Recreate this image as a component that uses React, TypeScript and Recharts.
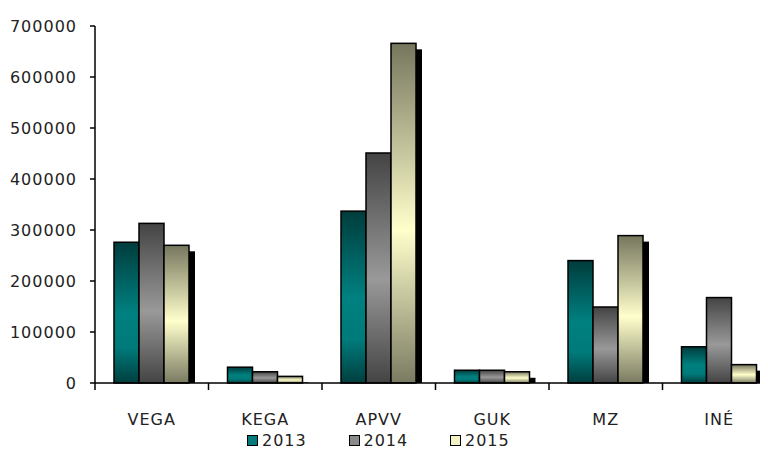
import { BarChart, Bar, XAxis, YAxis, Legend } from "recharts";

const categories = ["VEGA", "KEGA", "APVV", "GUK", "MZ", "INÉ"];
const values2013 = [276000, 31000, 337000, 25000, 240000, 71000];
const values2014 = [313000, 22000, 451000, 25000, 149000, 167500];
const values2015 = [270000, 13000, 666000, 22000, 289000, 36000];
const yTicks = [0, 100000, 200000, 300000, 400000, 500000, 600000, 700000];

const seriesList = [
  { key: "y2013", name: "2013", grad: "gTeal", swatch: "#007a7a", shadow: false },
  { key: "y2014", name: "2014", grad: "gGray", swatch: "#8a8a8a", shadow: false },
  { key: "y2015", name: "2015", grad: "gCream", swatch: "#f2f2c4", shadow: true },
];

const data = categories.map((c, i) => ({
  cat: c,
  y2013: values2013[i],
  y2014: values2014[i],
  y2015: values2015[i],
}));

const FONT = "'DejaVu Sans', sans-serif";

const shadowBar = (grad: string, shadow: boolean) => (props: any) => {
  const { x, y, width, height } = props;
  if (!height || height <= 0) return null;
  return (
    <g>
      {shadow && (
        <rect x={x + 6} y={y + 6} width={width} height={Math.max(0, height - 6)} fill="#000" />
      )}
      <rect
        x={x}
        y={y}
        width={width}
        height={height}
        fill={`url(#${grad})`}
        stroke="#000"
        strokeWidth={1.5}
      />
    </g>
  );
};

const XTick = (props: any) => {
  const { x, y, payload } = props;
  const off = payload.offset || 0;
  return (
    <g>
      <line x1={x - off} y1={y - 8} x2={x - off} y2={y - 1} stroke="#000" strokeWidth={1.5} />
      <text
        x={x}
        y={y + 34}
        textAnchor="middle"
        fontFamily={FONT}
        fontSize={16}
        letterSpacing={1}
        fill="#222"
      >
        {payload.value}
      </text>
    </g>
  );
};

const LegendBox = () => (
  <div style={{ display: "flex", fontFamily: FONT, fontSize: 16, letterSpacing: 1, color: "#222" }}>
    {seriesList.map((s) => (
      <div key={s.key} style={{ display: "flex", alignItems: "center", width: 101.5 }}>
        <span
          style={{
            display: "inline-block",
            width: 9,
            height: 9,
            background: s.swatch,
            border: "1.5px solid #000",
            marginRight: 4,
          }}
        />
        <span>{s.name}</span>
      </div>
    ))}
  </div>
);

export default function App() {
  return (
    <div style={{ width: 768, height: 454, overflow: "hidden", margin: -8, background: "#fff" }}>
      <BarChart
        width={800}
        height={454}
        data={data}
        margin={{ top: 26, right: 24, left: 0, bottom: 10 }}
        barSize={25}
        barGap={0}
      >
        <defs>
          <linearGradient id="gTeal" x1="0" y1="0" x2="0" y2="1">
            <stop offset="0" stopColor="#003c3c" />
            <stop offset="0.5" stopColor="#008080" />
            <stop offset="0.75" stopColor="#007a7a" />
            <stop offset="1" stopColor="#003e3e" />
          </linearGradient>
          <linearGradient id="gGray" x1="0" y1="0" x2="0" y2="1">
            <stop offset="0" stopColor="#444444" />
            <stop offset="0.55" stopColor="#999999" />
            <stop offset="1" stopColor="#444444" />
          </linearGradient>
          <linearGradient id="gCream" x1="0" y1="0" x2="0" y2="1">
            <stop offset="0" stopColor="#76765e" />
            <stop offset="0.55" stopColor="#ffffcc" />
            <stop offset="1" stopColor="#7a7a62" />
          </linearGradient>
        </defs>
        <XAxis
          dataKey="cat"
          height={42}
          axisLine={{ stroke: "#000", strokeWidth: 1.5 }}
          tickLine={false}
          tick={<XTick />}
          interval={0}
        />
        <YAxis
          width={95}
          domain={[0, 700000]}
          ticks={yTicks}
          interval={0}
          axisLine={{ stroke: "#000", strokeWidth: 1.5 }}
          tickLine={{ stroke: "#000", strokeWidth: 1.5 }}
          tickSize={5}
          tickMargin={13}
          tick={{ fontFamily: FONT, fontSize: 16, fill: "#222", letterSpacing: 1 }}
        />
        <Legend
          content={<LegendBox />}
          wrapperStyle={{ position: "absolute", left: 247, top: 431, width: 320, bottom: "auto" }}
        />
        {seriesList.map((s) => (
          <Bar
            key={s.key}
            dataKey={s.key}
            name={s.name}
            shape={shadowBar(s.grad, s.shadow)}
            isAnimationActive={false}
          />
        ))}
      </BarChart>
    </div>
  );
}
